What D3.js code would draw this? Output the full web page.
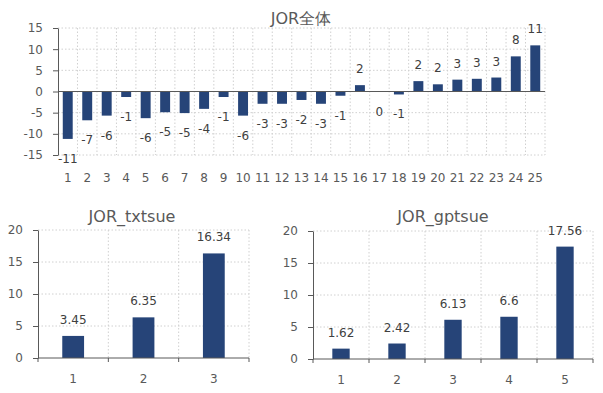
<!DOCTYPE html>
<html>
<head>
<meta charset="utf-8">
<script src="https://cdn.jsdelivr.net/npm/d3@7"></script>
<style>
  body { margin: 0; background: #fff; }
  text { font-family: "DejaVu Sans", Verdana, sans-serif; }
</style>
</head>
<body>
<svg id="chart" width="603" height="393"></svg>
<script>
// JOR全体
const allTitle = 'JOR全体';
const allCats = ['1','2','3','4','5','6','7','8','9','10','11','12','13','14','15','16','17','18','19','20','21','22','23','24','25'];
const allValues = [-11.2, -6.8, -5.7, -1.3, -6.3, -4.9, -5.1, -4.1, -1.3, -5.7, -2.9, -2.9, -2.0, -2.9, -1.0, 1.5, 0, -0.7, 2.45, 1.7, 2.8, 3.0, 3.3, 8.3, 10.9];
const allTicks = [-15, -10, -5, 0, 5, 10, 15];

// JOR_txtsue
const txtTitle = 'JOR_txtsue';
const txtCats = ['1', '2', '3'];
const txtValues = [3.45, 6.35, 16.34];

// JOR_gptsue
const gptTitle = 'JOR_gptsue';
const gptCats = ['1', '2', '3', '4', '5'];
const gptValues = [1.62, 2.42, 6.13, 6.6, 17.56];

const smallTicks = [0, 5, 10, 15, 20];

const svg = d3.select('#chart');
const barColor = '#264478';
const gridColor = '#d0d0d0';
const axisColor = '#595959';
const textColor = '#595959';
const labelColor = '#404040';

function drawChart(opt) {
  const g = svg.append('g');
  const n = opt.cats.length;

  const x = d3.scaleBand()
    .domain(opt.cats)
    .range([opt.left, opt.right])
    .paddingInner(opt.pad)
    .paddingOuter(opt.pad / 2);
  const step = x.step();

  const y = d3.scaleLinear()
    .domain(opt.yDomain)
    .range([opt.bottom, opt.top]);

  // dotted grid
  g.append('g').selectAll('line')
    .data(opt.ticks.filter(t => t !== 0))
    .join('line')
    .attr('x1', opt.left).attr('x2', opt.right)
    .attr('y1', d => y(d)).attr('y2', d => y(d))
    .attr('stroke', gridColor)
    .attr('stroke-dasharray', '1.5,2');

  g.append('g').selectAll('line')
    .data(d3.range(1, n + 1))
    .join('line')
    .attr('x1', i => opt.left + i * step).attr('x2', i => opt.left + i * step)
    .attr('y1', opt.top).attr('y2', opt.bottom)
    .attr('stroke', gridColor)
    .attr('stroke-dasharray', '1.5,2');

  // bars
  g.append('g').selectAll('rect')
    .data(opt.values)
    .join('rect')
    .attr('x', (d, i) => x(opt.cats[i]))
    .attr('width', x.bandwidth())
    .attr('y', d => y(Math.max(0, d)))
    .attr('height', d => Math.abs(y(d) - y(0)))
    .attr('fill', barColor);

  // y axis
  const yAxis = g.append('g')
    .attr('transform', `translate(${opt.left},0)`)
    .call(d3.axisLeft(y).tickValues(opt.ticks).tickSizeInner(5).tickSizeOuter(0).tickPadding(10));
  yAxis.select('.domain').attr('stroke', axisColor);
  yAxis.selectAll('.tick line').attr('stroke', axisColor);
  yAxis.selectAll('.tick text')
    .attr('fill', textColor)
    .style('font-size', '12px')
    .text(d => String(d).replace('−', '-'));

  // zero line
  g.append('line')
    .attr('x1', opt.left).attr('x2', opt.right)
    .attr('y1', y(0)).attr('y2', y(0))
    .attr('stroke', axisColor);

  if (opt.xTicks) {
    g.append('g').selectAll('line')
      .data(d3.range(0, n + 1))
      .join('line')
      .attr('x1', i => opt.left + i * step).attr('x2', i => opt.left + i * step)
      .attr('y1', y(0)).attr('y2', y(0) + 4)
      .attr('stroke', axisColor);
  }

  // category labels
  g.append('g').selectAll('text')
    .data(opt.cats)
    .join('text')
    .attr('x', d => x(d) + x.bandwidth() / 2)
    .attr('y', opt.catY)
    .attr('text-anchor', 'middle')
    .attr('fill', textColor)
    .style('font-size', '12px')
    .text(d => d);

  // data labels
  g.append('g').selectAll('text')
    .data(opt.values)
    .join('text')
    .attr('x', (d, i) => x(opt.cats[i]) + x.bandwidth() / 2)
    .attr('y', d => d > 0 ? y(d) - 12 : y(d) + 24)
    .attr('text-anchor', 'middle')
    .attr('fill', labelColor)
    .style('font-size', '12px')
    .text(opt.fmt);

  // title
  g.append('text')
    .attr('x', opt.titleX)
    .attr('y', opt.titleY)
    .attr('text-anchor', 'middle')
    .attr('fill', textColor)
    .style('font-size', '16px')
    .text(opt.title);
}

drawChart({
  title: allTitle, cats: allCats, values: allValues, ticks: allTicks,
  yDomain: [-15, 15], left: 58, right: 545, top: 28, bottom: 155,
  pad: 0.49, catY: 182, titleX: 301, titleY: 24, xTicks: false,
  fmt: d => String(Math.round(d) || 0)
});

drawChart({
  title: txtTitle, cats: txtCats, values: txtValues, ticks: smallTicks,
  yDomain: [0, 20], left: 38, right: 249, top: 230, bottom: 358,
  pad: 0.69, catY: 383, titleX: 132, titleY: 222, xTicks: true,
  fmt: d => String(d)
});

drawChart({
  title: gptTitle, cats: gptCats, values: gptValues, ticks: smallTicks,
  yDomain: [0, 20], left: 313, right: 593, top: 231, bottom: 359,
  pad: 0.69, catY: 384, titleX: 443, titleY: 222, xTicks: true,
  fmt: d => String(d)
});
</script>
</body>
</html>
